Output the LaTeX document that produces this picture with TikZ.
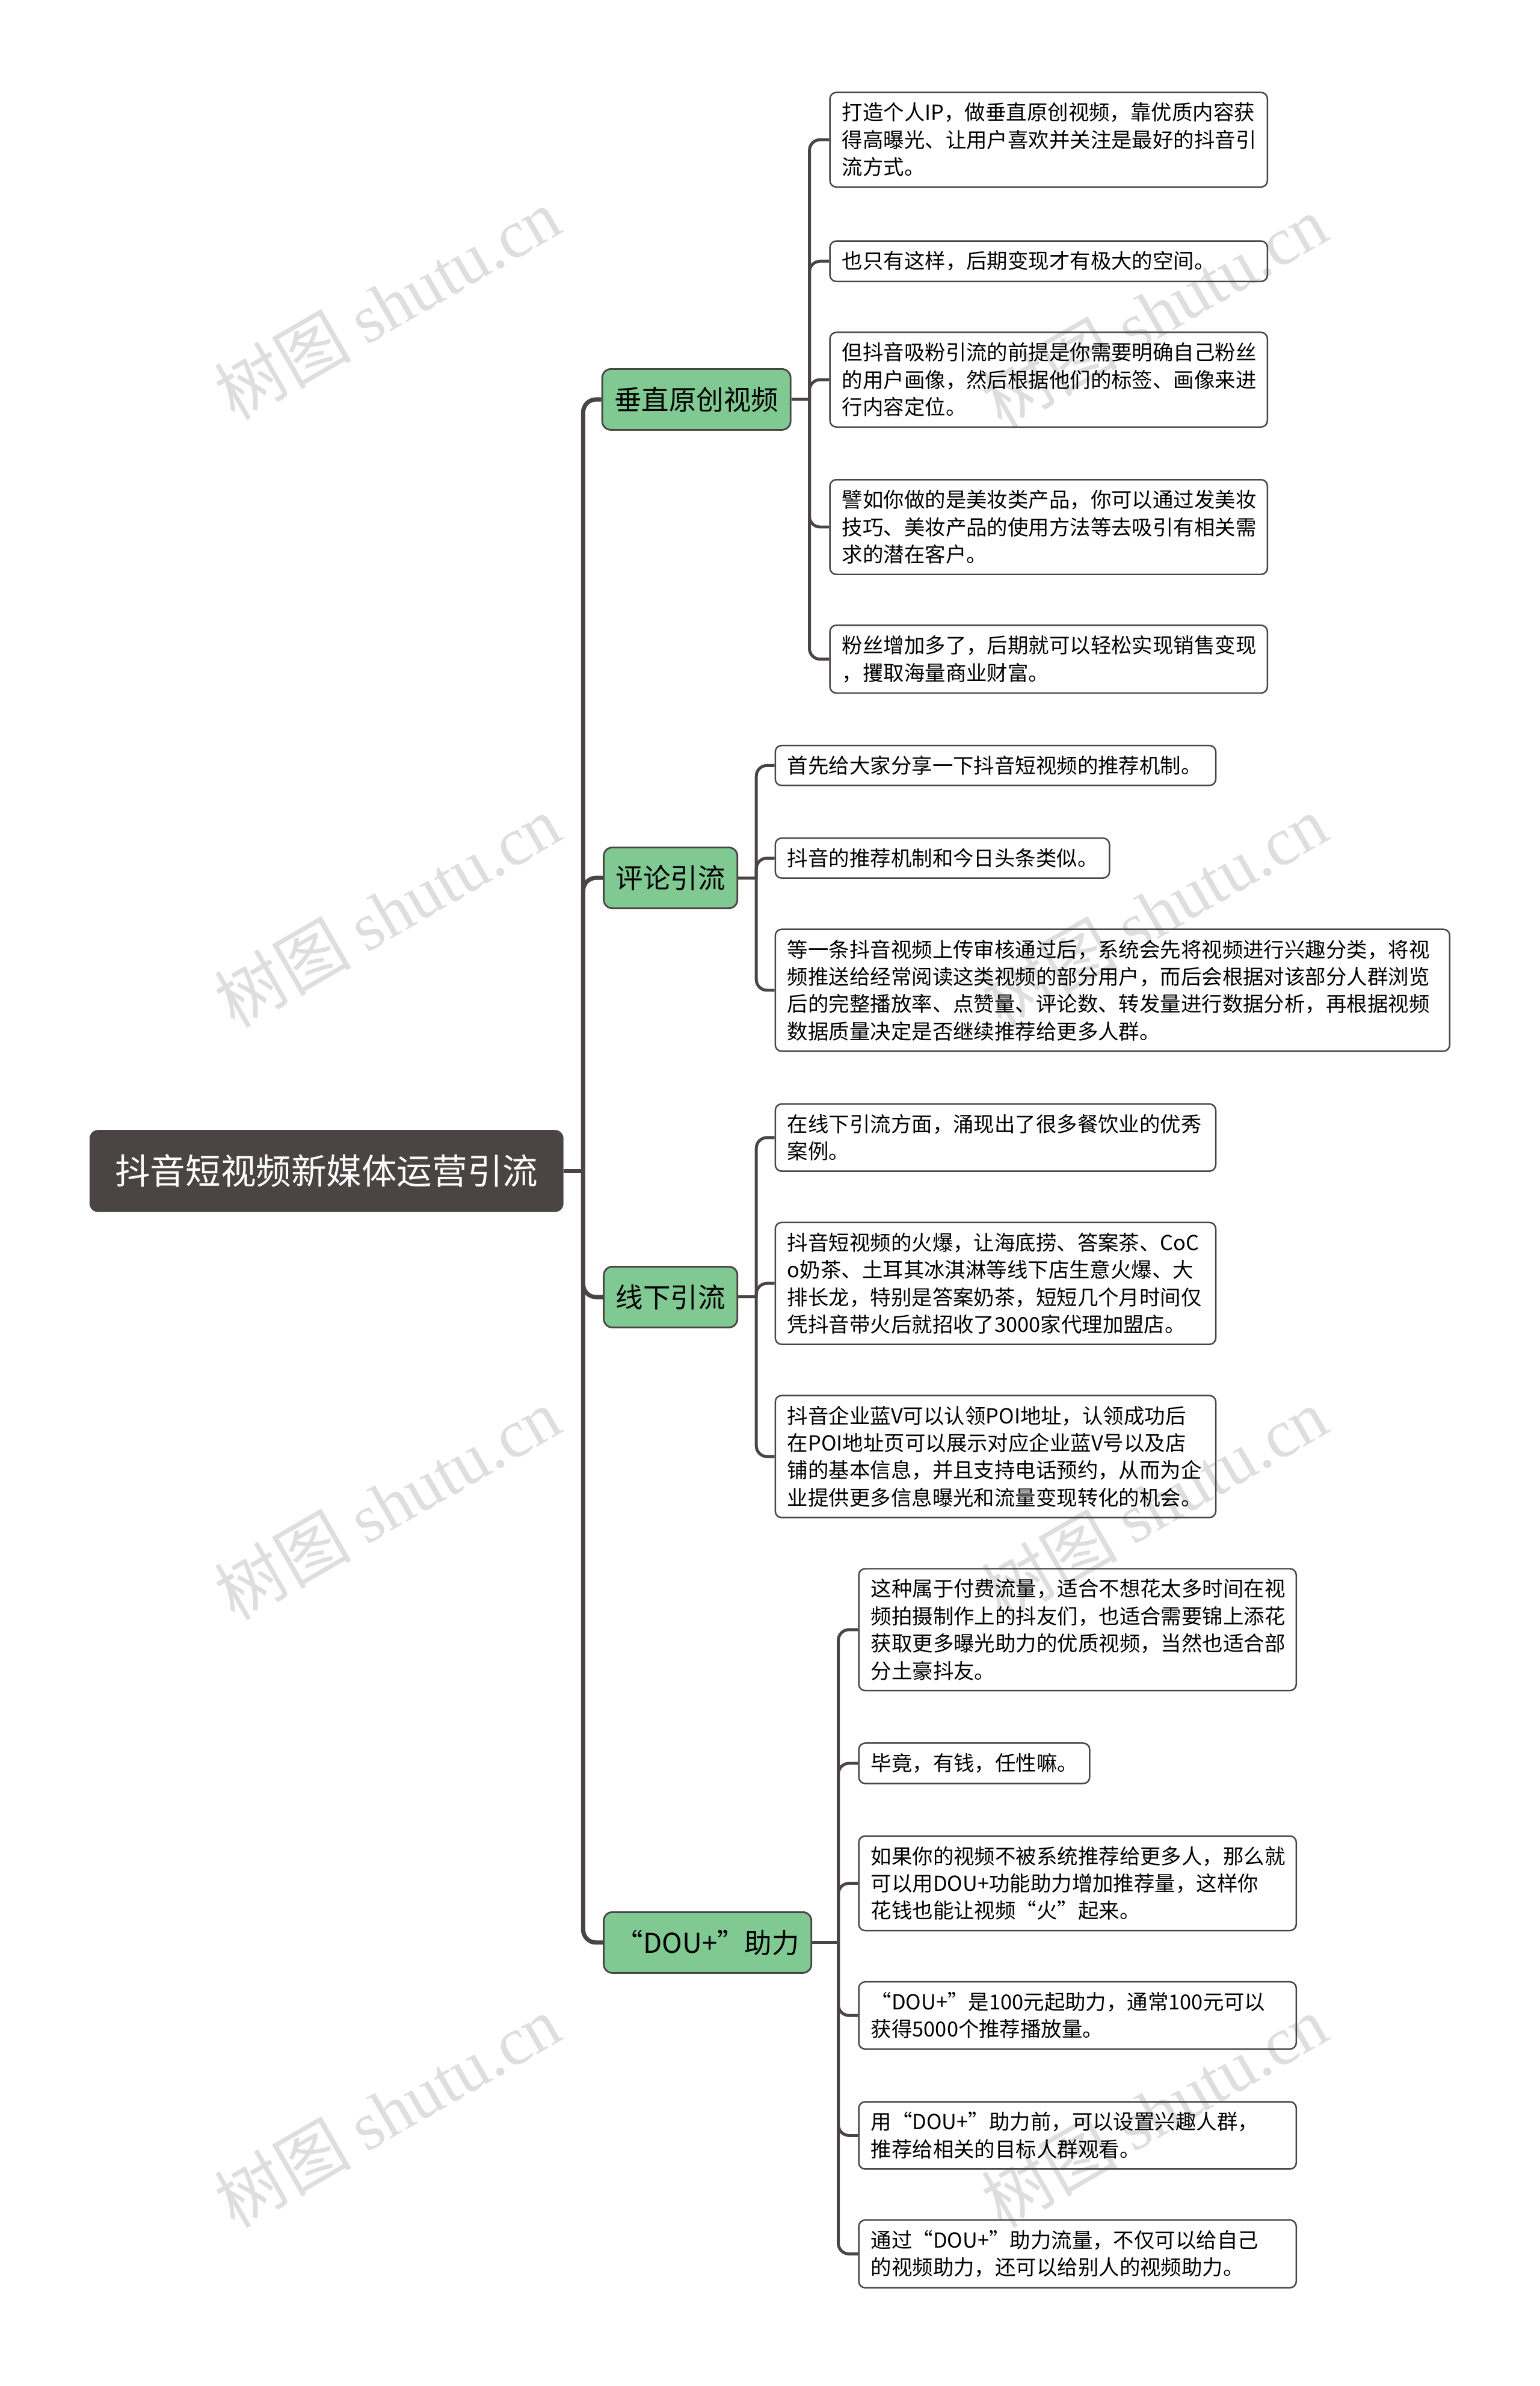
\documentclass[tikz,border=0pt]{standalone}
\usepackage{fontspec}
\setmainfont{Noto Sans CJK SC}
\newfontfamily\wmfont{Liberation Serif}
\usetikzlibrary{positioning}
\definecolor{darkline}{HTML}{4A4544}
\definecolor{branchgreen}{HTML}{80C992}
\tikzset{
  rootbox/.style={fill=darkline, text=white, rounded corners=4pt, minimum width=7.8cm, minimum height=1.35cm, font=\fontsize{16.5}{18}\selectfont},
  branchbox/.style={fill=branchgreen, draw=darkline, line width=0.8pt, rounded corners=4pt, minimum height=1cm, inner xsep=0.2cm, font=\fontsize{12.8}{15}\selectfont},
  leafbox/.style={draw=darkline, line width=0.7pt, rounded corners=3pt, anchor=west, align=left, inner xsep=0.2cm, inner ysep=0.17cm, font=\fontsize{9.7}{12.8}\selectfont},
  trunk/.style={draw=darkline, line width=2pt, rounded corners=6pt},
  link/.style={draw=darkline, line width=1.4pt, rounded corners=5pt},
  watermark/.style={text=black!13, rotate=30, font=\fontsize{32}{32}\selectfont}
}
\begin{document}
\begin{tikzpicture}[x=0.025cm, y=-0.025cm]
\useasboundingbox (0,0) rectangle (1014,1571);

% watermarks
\foreach \wx/\wy in {255/200, 760/205, 255/600, 760/600, 255/990, 760/990, 255/1390, 760/1390}
  \node[watermark] at (\wx,\wy) {树图 {\wmfont shutu.cn}};

% root and branches
\node[rootbox] (root) at (215,771) {抖音短视频新媒体运营引流};
\node[branchbox, anchor=west] (b1) at (396,263) {垂直原创视频};
\node[branchbox, anchor=west] (b2) at (397,578) {评论引流};
\node[branchbox, anchor=west] (b3) at (397,854) {线下引流};
\node[branchbox, anchor=west] (b4) at (397,1279) {“DOU+”助力};

\coordinate (t) at (384,771);
\draw[trunk] (root.east) -- (t);
\foreach \b in {b1,b2,b3,b4}
  \draw[trunk] (t) |- (\b.west);

% group 1
\node[leafbox, text width=6.8cm] (a1) at (546,92) {打造个人IP，做垂直原创视频，靠优质内容获\\得高曝光、让用户喜欢并关注是最好的抖音引\\流方式。};
\node[leafbox, text width=6.8cm] (a2) at (546,172) {也只有这样，后期变现才有极大的空间。};
\node[leafbox, text width=6.8cm] (a3) at (546,250) {但抖音吸粉引流的前提是你需要明确自己粉丝\\的用户画像，然后根据他们的标签、画像来进\\行内容定位。};
\node[leafbox, text width=6.8cm] (a4) at (546,347) {譬如你做的是美妆类产品，你可以通过发美妆\\技巧、美妆产品的使用方法等去吸引有相关需\\求的潜在客户。};
\node[leafbox, text width=6.8cm] (a5) at (546,434) {粉丝增加多了，后期就可以轻松实现销售变现\\，攫取海量商业财富。};
\coordinate (j1) at (533,263);
\draw[link] (b1.east) -- (j1);
\foreach \l in {a1,a2,a3,a4,a5}
  \draw[link] (j1) |- (\l.west);

% group 2
\node[leafbox, text width=6.85cm] (c1) at (510,504) {首先给大家分享一下抖音短视频的推荐机制。};
\node[leafbox, text width=5.1cm] (c2) at (510,565) {抖音的推荐机制和今日头条类似。};
\node[leafbox, text width=10.7cm] (c3) at (510,652) {等一条抖音视频上传审核通过后，系统会先将视频进行兴趣分类，将视\\频推送给经常阅读这类视频的部分用户，而后会根据对该部分人群浏览\\后的完整播放率、点赞量、评论数、转发量进行数据分析，再根据视频\\数据质量决定是否继续推荐给更多人群。};
\coordinate (j2) at (498,578);
\draw[link] (b2.east) -- (j2);
\foreach \l in {c1,c2,c3}
  \draw[link] (j2) |- (\l.west);

% group 3
\node[leafbox, text width=6.85cm] (d1) at (510,749) {在线下引流方面，涌现出了很多餐饮业的优秀\\案例。};
\node[leafbox, text width=6.85cm] (d2) at (510,845) {抖音短视频的火爆，让海底捞、答案茶、CoC\\o奶茶、土耳其冰淇淋等线下店生意火爆、大\\排长龙，特别是答案奶茶，短短几个月时间仅\\凭抖音带火后就招收了3000家代理加盟店。};
\node[leafbox, text width=6.85cm] (d3) at (510,959) {抖音企业蓝V可以认领POI地址，认领成功后\\在POI地址页可以展示对应企业蓝V号以及店\\铺的基本信息，并且支持电话预约，从而为企\\业提供更多信息曝光和流量变现转化的机会。};
\coordinate (j3) at (498,854);
\draw[link] (b3.east) -- (j3);
\foreach \l in {d1,d2,d3}
  \draw[link] (j3) |- (\l.west);

% group 4
\node[leafbox, text width=6.8cm] (e1) at (565,1073) {这种属于付费流量，适合不想花太多时间在视\\频拍摄制作上的抖友们，也适合需要锦上添花\\获取更多曝光助力的优质视频，当然也适合部\\分土豪抖友。};
\node[leafbox, text width=3.4cm] (e2) at (565,1161) {毕竟，有钱，任性嘛。};
\node[leafbox, text width=6.8cm] (e3) at (565,1240) {如果你的视频不被系统推荐给更多人，那么就\\可以用DOU+功能助力增加推荐量，这样你\\花钱也能让视频“火”起来。};
\node[leafbox, text width=6.8cm] (e4) at (565,1327) {“DOU+”是100元起助力，通常100元可以\\获得5000个推荐播放量。};
\node[leafbox, text width=6.8cm] (e5) at (565,1406) {用“DOU+”助力前，可以设置兴趣人群，\\推荐给相关的目标人群观看。};
\node[leafbox, text width=6.8cm] (e6) at (565,1484) {通过“DOU+”助力流量，不仅可以给自己\\的视频助力，还可以给别人的视频助力。};
\coordinate (j4) at (552,1279);
\draw[link] (b4.east) -- (j4);
\foreach \l in {e1,e2,e3,e4,e5,e6}
  \draw[link] (j4) |- (\l.west);
\end{tikzpicture}
\end{document}
